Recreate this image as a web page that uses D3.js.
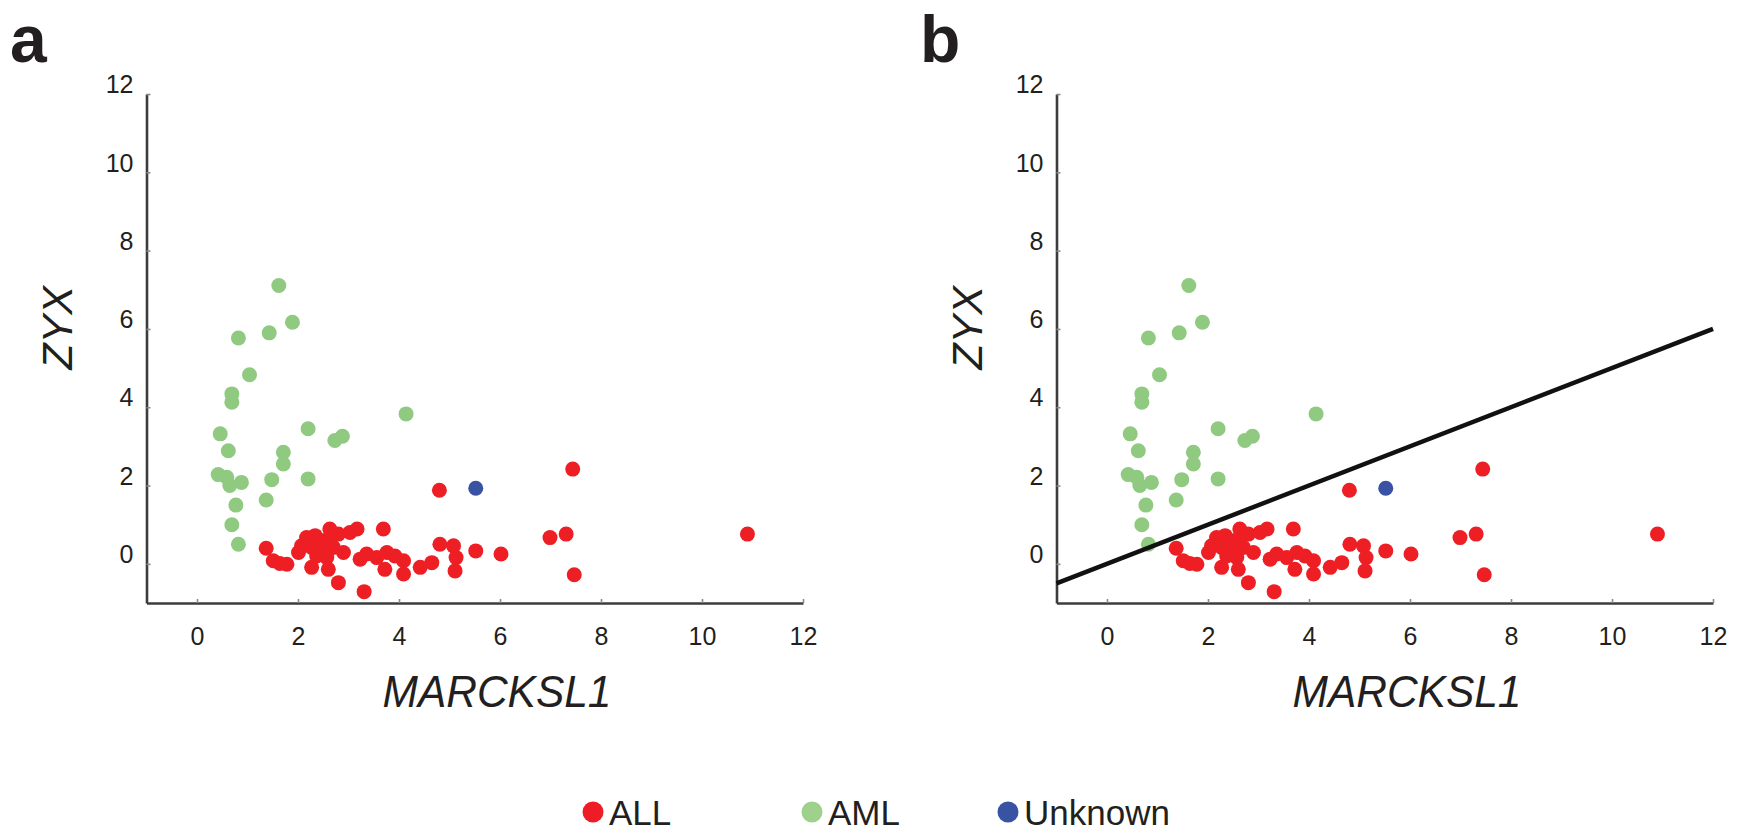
<!DOCTYPE html>
<html>
<head>
<meta charset="utf-8">
<script src="https://cdn.jsdelivr.net/npm/d3@7/dist/d3.min.js"></script>
<style>
  html, body { margin: 0; padding: 0; background: #fff; }
  svg { display: block; font-family: "Liberation Sans", Arial, Helvetica, sans-serif; }
</style>
</head>
<body>
<svg id="chart" width="1744" height="833"></svg>
<script>
// Expression of MARCKSL1 (x) versus ZYX (y) per sample
const xTicks = [0, 2, 4, 6, 8, 10, 12];
const yTicks = [0, 2, 4, 6, 8, 10, 12];
const xDomain = [-1, 12];
const yDomain = [-1, 12];

const allSamples = [
  [4.80, 1.88], [3.69, 0.89], [3.17, 0.89], [3.03, 0.80], [2.63, 0.89],
  [2.17, 0.67], [2.34, 0.72], [2.50, 0.59], [2.63, 0.67], [2.80, 0.76],
  [2.07, 0.46], [2.27, 0.42], [2.47, 0.38], [2.70, 0.42], [2.90, 0.29],
  [2.01, 0.29], [2.37, 0.20], [2.57, 0.16],
  [1.37, 0.40], [1.51, 0.08], [1.78, -0.01], [1.64, 0.01], [2.27, -0.09],
  [2.60, -0.14], [2.80, -0.48], [3.31, -0.71], [3.23, 0.12], [3.36, 0.25],
  [3.56, 0.16], [3.76, 0.29], [3.92, 0.20], [3.72, -0.14], [4.09, -0.26],
  [4.09, 0.08], [4.42, -0.09], [4.65, 0.03], [4.81, 0.50], [5.08, 0.46],
  [5.13, 0.16], [5.11, -0.18], [5.52, 0.33], [6.02, 0.25], [6.99, 0.67],
  [7.31, 0.76], [7.47, -0.28], [7.44, 2.42], [10.90, 0.76]
];

const amlSamples = [
  [1.62, 7.11], [1.89, 6.17], [0.82, 5.77], [1.43, 5.90], [1.04, 4.83],
  [0.69, 4.34], [0.69, 4.13], [4.14, 3.83], [0.46, 3.32], [2.20, 3.45],
  [2.73, 3.15], [2.88, 3.26], [0.62, 2.89], [1.71, 2.85], [1.71, 2.55],
  [0.42, 2.28], [0.59, 2.21], [0.65, 2.00], [0.88, 2.08], [1.48, 2.15],
  [2.20, 2.17], [1.37, 1.63], [0.77, 1.50], [0.69, 1.00], [0.82, 0.50]
];

const unknownSamples = [[5.52, 1.93]];

// Separating line drawn in panel b
const boundary = [[-1, -0.5], [12, 6]];

const classNames = ["ALL", "AML", "Unknown"];
const classColors = ["#ee1f24", "#8fca80", "#3a52a3"];
const legendColors = ["#ee1c25", "#9dd18c", "#3953a4"];

const svg = d3.select("#chart");
const ink = "#231f20";

function drawPanel(offsetX, letter, withBoundary) {
  const g = svg.append("g").attr("transform", `translate(${offsetX},0)`);
  const x = d3.scaleLinear().domain(xDomain).range([146.5, 803]);
  const y = d3.scaleLinear().domain(yDomain).range([603, 94]);

  // panel letter
  g.append("text")
    .attr("x", 10).attr("y", 62)
    .attr("font-size", 66).attr("font-weight", "bold")
    .attr("fill", ink)
    .text(letter);

  // axes with short inward ticks
  const xAxis = g.append("g")
    .attr("transform", `translate(0,${y(yDomain[0])})`)
    .call(d3.axisBottom(x).tickValues(xTicks).tickSize(-4).tickSizeOuter(0));
  const yAxis = g.append("g")
    .attr("transform", `translate(${x(xDomain[0])},0)`)
    .call(d3.axisLeft(y).tickValues(yTicks).tickSize(-4).tickSizeOuter(0));

  [xAxis, yAxis].forEach(a => {
    a.select(".domain").attr("stroke", "#3c3c3c").attr("stroke-width", 2.6);
    a.selectAll(".tick line").attr("stroke", "#8a8a8a").attr("stroke-width", 1.6);
    a.selectAll(".tick text")
      .attr("fill", ink)
      .attr("font-size", 25)
      .attr("font-family", "'Liberation Sans', Arial, sans-serif");
  });
  xAxis.selectAll(".tick text").attr("y", 33).attr("dy", "0.35em");
  yAxis.selectAll(".tick text").attr("x", -13).attr("y", -10).attr("dy", "0.35em");

  // axis titles
  g.append("text")
    .attr("transform", "translate(57,328) rotate(-90)")
    .attr("text-anchor", "middle")
    .attr("dominant-baseline", "central")
    .attr("font-size", 43).attr("font-style", "italic")
    .attr("fill", ink)
    .text("ZYX");
  g.append("text")
    .attr("x", 497).attr("y", 707)
    .attr("text-anchor", "middle")
    .attr("font-size", 44).attr("font-style", "italic")
    .attr("textLength", 229).attr("lengthAdjust", "spacingAndGlyphs")
    .attr("fill", ink)
    .text("MARCKSL1");

  // points
  const groups = [allSamples, amlSamples, unknownSamples];
  groups.forEach((pts, i) => {
    g.append("g").selectAll("circle")
      .data(pts)
      .join("circle")
      .attr("cx", d => x(d[0]))
      .attr("cy", d => y(d[1]))
      .attr("r", 7.5)
      .attr("fill", classColors[i]);
  });

  if (withBoundary) {
    g.append("path")
      .datum(boundary)
      .attr("d", d3.line().x(d => x(d[0])).y(d => y(d[1])))
      .attr("fill", "none")
      .attr("stroke", "#111")
      .attr("stroke-width", 4.5);
  }
}

drawPanel(0, "a", false);
drawPanel(910, "b", true);

// legend
const legendX = [593, 812, 1008];
const legend = svg.append("g");
classNames.forEach((name, i) => {
  legend.append("circle")
    .attr("cx", legendX[i]).attr("cy", 812)
    .attr("r", 10.5)
    .attr("fill", legendColors[i]);
  legend.append("text")
    .attr("x", legendX[i] + 16).attr("y", 812)
    .attr("dominant-baseline", "central")
    .attr("font-size", 35)
    .attr("fill", ink)
    .text(name);
});
</script>
</body>
</html>
